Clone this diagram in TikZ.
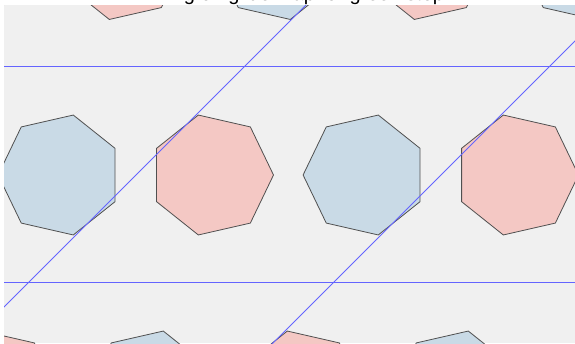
\documentclass[tikz,border=0pt]{standalone}
\usepackage{fontspec}
\setmainfont{Liberation Sans}
\definecolor{bgc}{RGB}{240,240,240}
\definecolor{hepblue}{RGB}{201,218,230}
\definecolor{hepred}{RGB}{244,200,196}
\definecolor{hepedge}{RGB}{80,80,80}
\definecolor{axisblue}{RGB}{100,100,255}
\tikzset{
  bluehep/.style={fill=hepblue, draw=hepedge, line width=0.8pt, line join=round},
  redhep/.style={fill=hepred, draw=hepedge, line width=0.8pt, line join=round},
  glideline/.style={draw=axisblue, line width=0.8pt},
  titletext/.style={anchor=base west, inner sep=0pt, font=\fontsize{20}{24}\selectfont}
}
% heptagon: centre x, centre y, start angle, style
\newcommand\heptagonat[4]{%
  \begin{scope}[shift={(#1,#2)}]
    \draw[#4] (#3:61.5) \foreach \k in {1,...,6}{ -- (#3+\k*51.428571:61.5) } -- cycle;
  \end{scope}}
\begin{document}
\begin{tikzpicture}[x=1pt,y=-1pt]
\useasboundingbox (0,0) rectangle (575,343);
\begin{scope}
  \clip (4,5) rectangle (575,343);
  \fill[bgc] (4,5) rectangle (575,343);
  % top row
  \heptagonat{-28.4}{-40.5}{180}{bluehep}
  \heptagonat{123}{-40.5}{0}{redhep}
  \heptagonat{276.6}{-40.5}{180}{bluehep}
  \heptagonat{428}{-40.5}{0}{redhep}
  \heptagonat{581.6}{-40.5}{180}{bluehep}
  % middle row
  \heptagonat{59.6}{175}{180}{bluehep}
  \heptagonat{212}{175}{0}{redhep}
  \heptagonat{364.6}{175}{180}{bluehep}
  \heptagonat{517}{175}{0}{redhep}
  % bottom row
  \heptagonat{-4}{391}{0}{redhep}
  \heptagonat{149.6}{391}{180}{bluehep}
  \heptagonat{301}{391}{0}{redhep}
  \heptagonat{454.6}{391}{180}{bluehep}
  \heptagonat{606}{391}{0}{redhep}
  % glide axes
  \coordinate (h1a) at (4,66.7);  \coordinate (h1b) at (575,66.7);
  \coordinate (h2a) at (4,282.7); \coordinate (h2b) at (575,282.7);
  \coordinate (d1a) at (-40,351); \coordinate (d1b) at (311,0);
  \coordinate (d2a) at (266,350); \coordinate (d2b) at (616,0);
  \draw[glideline] (h1a) -- (h1b);
  \draw[glideline] (h2a) -- (h2b);
  \draw[glideline] (d1a) -- (d1b);
  \draw[glideline] (d2a) -- (d2b);
\end{scope}
\node[titletext] (title) at (147.8,0) {Tiling on glide map for green step};
\end{tikzpicture}
\end{document}
